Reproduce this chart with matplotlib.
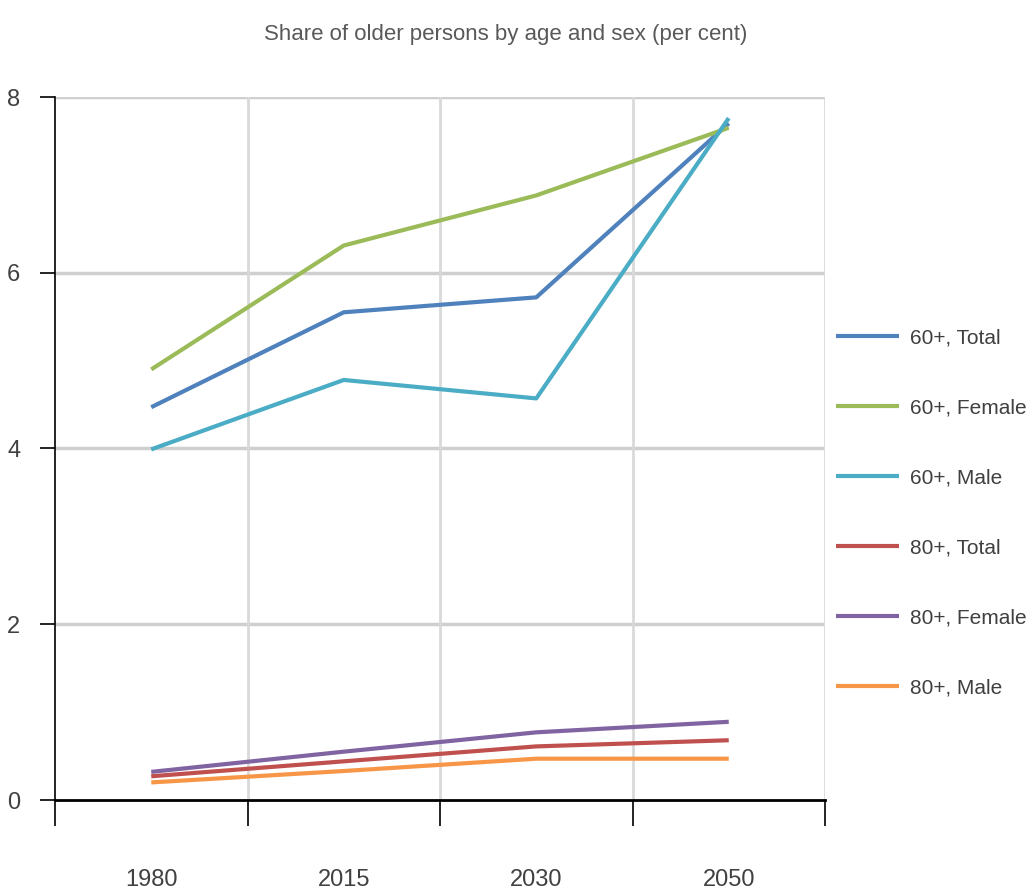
import matplotlib.pyplot as plt

plt.rcParams['font.family'] = ['Liberation Sans', 'DejaVu Sans']

# chart data
years = ['1980', '2015', '2030', '2050']
series_names = ['60+, Total', '60+, Female', '60+, Male',
                '80+, Total', '80+, Female', '80+, Male']
total_60 = [4.47, 5.55, 5.72, 7.70]
female_60 = [4.90, 6.31, 6.88, 7.65]
male_60 = [3.99, 4.78, 4.57, 7.76]
total_80 = [0.27, 0.44, 0.61, 0.68]
female_80 = [0.32, 0.55, 0.77, 0.89]
male_80 = [0.20, 0.33, 0.47, 0.47]
colors = ['#4F81BD', '#9BBB59', '#4BACC6', '#C0504D', '#8064A2', '#F79646']

all_series = [total_60, female_60, male_60, total_80, female_80, male_80]

fig = plt.figure(figsize=(10.32, 8.96), dpi=100)
ax = fig.add_axes([55 / 1032, 1 - 800 / 896, 770 / 1032, 703 / 896])

xpos = [i + 0.5 for i in range(len(years))]
for vals, name, col in zip(all_series, series_names, colors):
    ax.plot(xpos, vals, color=col, lw=3, label=name, solid_capstyle='butt', zorder=3)

ax.set_xlim(0, 4)
ax.set_ylim(0, 8)

# gridlines
for y in [2, 4, 6, 8]:
    ax.axhline(y, color='#cfcfcf', lw=2.5, zorder=1)
for x in [1, 2, 3, 4]:
    ax.axvline(x, color='#d9d9d9', lw=2, zorder=1)

for s in ['top', 'right']:
    ax.spines[s].set_visible(False)
ax.spines['left'].set_color('black')
ax.spines['left'].set_linewidth(1.2)
ax.spines['bottom'].set_color('black')
ax.spines['bottom'].set_linewidth(2)

ax.set_yticks([0, 2, 4, 6, 8])
ax.set_yticklabels(['0', '2', '4', '6', '8'])
ax.tick_params(axis='y', length=11, width=1.2, color='black', labelsize=17,
               labelcolor='#404040', pad=14)

ax.set_xticks([0, 1, 2, 3, 4])
ax.set_xticklabels([])
ax.tick_params(axis='x', which='major', length=19, width=1.2, color='black')
ax.set_xticks(xpos, minor=True)
ax.set_xticklabels(years, minor=True)
ax.tick_params(axis='x', which='minor', length=0, labelsize=17,
               labelcolor='#404040', pad=50)

fig.text(0.49, 0.962, 'Share of older persons by age and sex (per cent)',
         ha='center', va='center', fontsize=16, color='#595959')

fig.legend(loc='center left', bbox_to_anchor=(836 / 1032, 1 - 513 / 896),
           frameon=False, fontsize=15, labelspacing=2.45, handlelength=3.0,
           handletextpad=0.55, borderpad=0, borderaxespad=0, labelcolor='#404040')

fig.savefig('out.png', dpi=100)
